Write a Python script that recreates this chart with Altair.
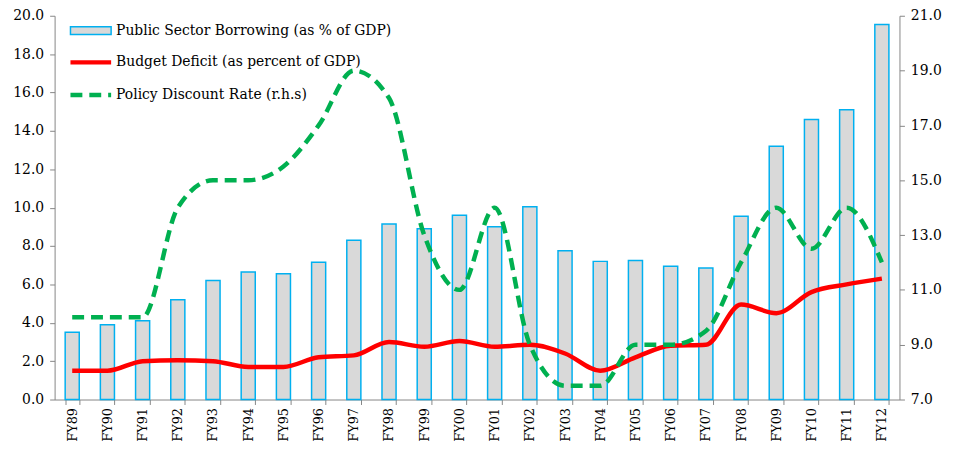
import altair as alt
import pandas as pd

years = ["FY89","FY90","FY91","FY92","FY93","FY94","FY95","FY96","FY97","FY98","FY99","FY00",
         "FY01","FY02","FY03","FY04","FY05","FY06","FY07","FY08","FY09","FY10","FY11","FY12"]
public_borrowing = [3.5, 3.9, 4.1, 5.2, 6.2, 6.65, 6.55, 7.15, 8.3, 9.15, 8.9, 9.6,
                    9.0, 10.05, 7.75, 7.2, 7.25, 6.95, 6.85, 9.55, 13.2, 14.6, 15.1, 19.55]
budget_deficit = [1.5, 1.5, 2.0, 2.05, 2.0, 1.7, 1.7, 2.2, 2.3, 3.0, 2.75, 3.05,
                  2.75, 2.85, 2.4, 1.5, 2.2, 2.8, 2.85, 4.95, 4.5, 5.6, 6.0, 6.3]
policy_rate = [10, 10, 10, 14, 15, 15, 15.5, 17, 19, 18, 13, 11,
               14, 9, 7.5, 7.5, 9, 9, 9.5, 12, 14, 12.5, 14, 12]
legend_labels = ["Public Sector Borrowing (as % of GDP)",
                 "Budget Deficit (as percent of GDP)",
                 "Policy Discount Rate (r.h.s)"]

df = pd.DataFrame({"year": years, "psb": public_borrowing,
                   "bd": budget_deficit, "pr": policy_rate})

FONT = "DejaVu Serif"
AXIS_COLOR = "#868686"

x = alt.X("year:N", sort=years, title=None,
          scale=alt.Scale(paddingInner=0.6, paddingOuter=0.3),
          axis=alt.Axis(labelAngle=-90, tickBand="extent", labelFont=FONT, labelFontSize=13,
                        labelColor="black", domainColor=AXIS_COLOR, tickColor=AXIS_COLOR,
                        tickSize=5, labelPadding=3, labelBaseline="middle", labelAlign="right",
                        labelOverlap=False))

left_axis = alt.Axis(values=list(range(0, 21, 2)), format=".1f", grid=False,
                     labelFont=FONT, labelFontSize=14, labelColor="black",
                     domainColor=AXIS_COLOR, tickColor=AXIS_COLOR, tickSize=5,
                     labelPadding=6, labelOverlap=False)
left_scale = alt.Scale(domain=[0, 20], nice=False)

bars = alt.Chart(df).mark_bar(fill="#D9D9D9", stroke="#00B0F0", strokeWidth=1.5).encode(
    x=x, y=alt.Y("psb:Q", title=None, scale=left_scale, axis=left_axis))

deficit = alt.Chart(df).mark_line(color="#FF0000", strokeWidth=4.5, interpolate="monotone").encode(
    x=x, y=alt.Y("bd:Q", title=None, scale=left_scale, axis=left_axis))

rate = alt.Chart(df).mark_line(color="#00B050", strokeWidth=4.5, strokeDash=[12, 7],
                               interpolate="monotone").encode(
    x=x,
    y=alt.Y("pr:Q", title=None, scale=alt.Scale(domain=[7, 21], nice=False),
            axis=alt.Axis(orient="right", values=list(range(7, 22, 2)), format=".1f", grid=False,
                          labelFont=FONT, labelFontSize=14, labelColor="black",
                          domainColor=AXIS_COLOR, tickColor=AXIS_COLOR, tickSize=5,
                          labelPadding=6, labelOverlap=False)))

# manual legend
leg_df = pd.DataFrame({"label": legend_labels})
leg_bar = alt.Chart(leg_df.iloc[[0]]).mark_rect(fill="#D9D9D9", stroke="#00B0F0", strokeWidth=1.5).encode(
    x=alt.value(16), x2=alt.value(57), y=alt.value(11), y2=alt.value(19))
leg_red = alt.Chart(leg_df.iloc[[1]]).mark_rule(color="#FF0000", strokeWidth=4.5).encode(
    x=alt.value(16), x2=alt.value(57), y=alt.value(47))
leg_green = alt.Chart(leg_df.iloc[[2]]).mark_rule(color="#00B050", strokeWidth=4.5,
                                                  strokeDash=[12, 7]).encode(
    x=alt.value(16), x2=alt.value(57), y=alt.value(80))

leg_texts = []
for i, ypos in enumerate([15, 47, 80]):
    leg_texts.append(
        alt.Chart(leg_df.iloc[[i]]).mark_text(align="left", baseline="middle", font=FONT,
                                              fontSize=14, color="black").encode(
            x=alt.value(62), y=alt.value(ypos), text="label:N"))

left = alt.layer(bars, deficit)
chart = alt.layer(left, rate, leg_bar, leg_red, leg_green, *leg_texts).resolve_scale(
    y="independent").properties(
    width=852, height=387,
    autosize=alt.AutoSizeParams(type="none"),
    padding={"left": 47, "top": 6, "right": 56, "bottom": 41},
).configure_view(stroke=None)

chart.save("out.html", embed_options={"renderer": "svg", "actions": False})
